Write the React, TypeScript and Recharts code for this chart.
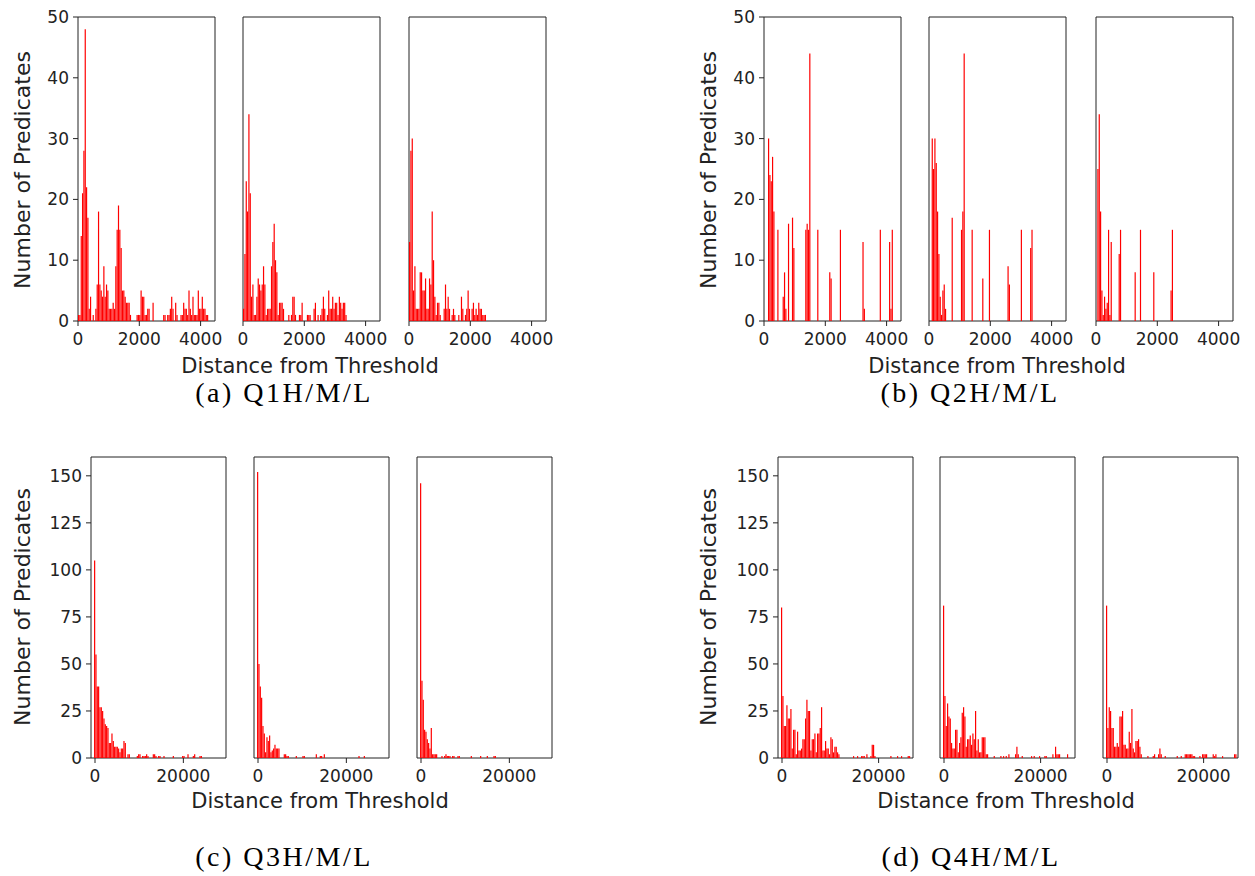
import { BarChart, Bar, XAxis, YAxis, ReferenceArea } from 'recharts'

// histogram counts per bin (H / M / L panels)
const q1High = [1,1,14,21,28,48,22,17,2,4, 0,1,0,2,6,18,6,5,4,9, 4,6,5,2,2,2,3,2,9,15, 19,15,12,5,5,4,3,3,3,1, 0,0,0,0,1,1,1,5,4,4, 1,1,2,2,0,0,3,0,0,0, 0,0,0,0,1,1,0,1,1,2, 4,2,0,3,1,0,0,1,1,3, 2,2,1,5,2,1,4,1,1,1, 5,2,2,4,2,2,1,1]
const q1Mid = [2,11,23,18,34,21,4,6,1,1, 4,7,6,5,6,9,6,1,2,2, 2,9,13,16,10,8,1,3,3,3, 2,0,0,0,1,0,1,4,4,1, 0,0,1,1,3,0,0,0,1,1, 1,0,0,2,3,0,1,0,1,2, 4,2,0,1,5,2,2,4,2,3, 3,1,4,3,2,3,3,1]
const q1Low = [13,28,30,5,9,2,2,2,8,8, 5,5,7,2,2,7,6,18,10,4, 1,3,3,1,0,0,2,6,2,4, 2,0,1,2,1,0,0,1,0,4, 2,0,1,2,5,2,0,2,3,1, 2,1,3,2,2,1,1,1]

const q2High = [0,0,0,30,24,23,27,18,0,0, 15,0,0,0,4,8,2,0,16,0, 0,17,12,0,0,0,0,0,0,0, 0,15,16,15,44,0,0,0,0,0, 15,0,0,0,0,0,0,0,0,8, 7,0,0,0,0,0,0,15,0,0, 0,0,0,0,0,0,0,0,0,0, 0,0,0,0,13,2,0,0,0,0, 0,0,0,0,0,0,0,15,0,0, 0,0,0,0,13,2,15]
const q2Mid = [0,0,30,25,30,26,18,11,4,1, 5,6,2,0,0,0,0,17,0,0, 0,0,0,0,15,18,44,0,0,0, 0,0,15,0,0,0,0,0,0,0, 7,0,0,0,0,15,0,0,0,0, 0,0,0,0,0,0,0,0,0,9, 6,0,0,0,0,0,0,0,0,15, 0,0,0,0,0,0,12,15]
const q2Low = [0,25,34,18,5,1,4,2,3,15, 1,13,0,0,0,0,0,11,15,0, 0,0,0,0,0,0,0,0,0,8, 0,0,0,15,0,0,0,0,0,0, 0,0,0,8,0,0,0,0,0,0, 0,0,0,0,0,0,5,15]

const q3High = [105,55,38,38,27,27,25,21,18,17, 16,8,8,13,9,6,6,6,5,3, 5,5,9,8,0,2,2,0,0,0, 0,0,1,2,2,0,1,1,1,2, 1,0,0,0,2,2,1,0,1,1, 0,0,1,0,0,0,0,0,0,1, 0,0,0,0,0,0,1,1,0,0, 2,0,0,0,1,2,0,0,0,1, 1]
const q3Mid = [152,50,38,32,17,13,3,11,9,12, 3,4,5,7,5,5,5,0,0,0, 2,2,1,1,0,0,0,0,0,1, 0,0,0,0,1,1,0,0,0,0, 0,0,0,0,2,0,0,1,1,0, 2,0,0,0,0,0,0,0,0,0, 0,0,0,0,0,0,0,0,0,0, 0,0,0,0,0,0,1,0,0,0, 1]
const q3Low = [146,41,31,15,14,10,8,5,16,2, 2,2,2,0,0,0,1,0,1,2, 1,1,1,0,1,1,0,0,1,1, 0,0,0,0,0,0,0,0,1,0, 0,0,0,0,0,1,0,0,0,0, 1,0,0,0,0,1,1]

const q4High = [80,33,17,17,28,21,21,26,5,15, 15,2,14,4,4,5,10,10,21,31, 25,25,4,10,10,13,3,13,13,16, 27,4,4,9,5,5,2,11,10,3, 6,6,3,2,0,0,0,0,0,0, 0,0,0,0,1,0,0,1,0,0, 1,1,1,0,2,0,0,1,7,7, 1,0,0,0,0,0,0,0,0,0, 0,0,1,0,0,0,0,1,0,0, 1,0,0,0,0,1,1]
const q4Mid = [81,33,17,29,22,21,8,5,5,15, 15,3,8,11,24,27,22,6,10,10, 12,7,13,10,25,4,10,3,3,11, 11,11,2,2,0,0,0,0,1,0, 0,0,0,1,0,1,0,1,0,2, 0,0,0,0,2,6,2,0,0,1, 0,0,0,0,0,0,1,0,1,0, 0,0,1,0,0,0,1,1,0,0, 0,0,2,0,6,2,2,2,0,0, 0,0,0,2]
const q4Low = [81,16,27,25,16,16,6,6,8,6, 22,22,25,7,7,5,5,14,8,26, 5,3,9,9,10,6,2,0,0,0, 0,1,0,0,0,1,2,0,0,2, 5,2,0,0,1,0,0,0,0,0, 0,0,0,1,0,0,1,0,0,2, 2,2,2,2,2,1,1,0,0,0, 1,0,2,2,2,2,0,0,0,0, 2,1,2,0,0,0,0,1,0,0, 0,0,0,0,0,0,2,2]

// bin edges (distance units)
const binQ12 = { start: 0, width: 43.4 }
const binQ3 = { start: -220, width: 302 }
const binQ4 = { start: -210, width: 276 }

const xTicksQ12 = [0, 2000, 4000]
const xTicksQ34 = [0, 20000]
const yTicksQ12 = [0, 10, 20, 30, 40, 50]
const yTicksQ34 = [0, 25, 50, 75, 100, 125, 150]

const captions = ['(a) Q1H/M/L', '(b) Q2H/M/L', '(c) Q3H/M/L', '(d) Q4H/M/L']
const xLabel = 'Distance from Threshold'
const yLabel = 'Number of Predicates'

const INK = '#222'
const PAD_L = 60
const PAD_T = 15
const PAD_R = 30
const AXIS_H = 34

type HistProps = {
  counts: number[]
  bin: { start: number; width: number }
  xDomain: [number, number]
  xTicks: number[]
  yMax: number
  yTicks: number[]
  showY: boolean
  left: number
  top: number
  w: number
  h: number
}

function Hist({ counts, bin, xDomain, xTicks, yMax, yTicks, showY, left, top, w, h }: HistProps) {
  const data = counts.map((n, i) => ({ x: bin.start + (i + 0.5) * bin.width, n }))
  // a touch wider than one bin so neighbouring bars close up like matplotlib's
  const barPx = (bin.width * w) / (xDomain[1] - xDomain[0]) + 0.35
  const tickStyle = { fill: INK, fontSize: 17 }

  return (
    <div style={{ position: 'absolute', left: left - PAD_L, top: top - PAD_T }}>
      <BarChart
        width={PAD_L + w + PAD_R}
        height={PAD_T + h + AXIS_H}
        data={data}
        margin={{ top: PAD_T, right: PAD_R, left: 0, bottom: 0 }}
        barCategoryGap={0}
      >
        <XAxis
          type="number"
          dataKey="x"
          domain={xDomain}
          ticks={xTicks}
          interval={0}
          allowDataOverflow
          height={AXIS_H}
          axisLine={false}
          tickSize={5}
          tickMargin={7}
          tickLine={{ stroke: INK }}
          tick={tickStyle}
        />
        <YAxis
          type="number"
          domain={[0, yMax]}
          ticks={yTicks}
          interval={0}
          allowDataOverflow
          width={PAD_L}
          axisLine={false}
          tickSize={5}
          tickMargin={4}
          tickLine={showY ? { stroke: INK } : false}
          tick={showY ? tickStyle : false}
        />
        <Bar dataKey="n" fill="#ff0000" barSize={barPx} isAnimationActive={false} />
        <ReferenceArea x1={xDomain[0]} x2={xDomain[1]} y1={0} y2={yMax} fill="none" stroke={INK} strokeWidth={1} />
      </BarChart>
    </div>
  )
}

function Centered({ text, cx, cy, size, serif, spacing }: { text: string; cx: number; cy: number; size: number; serif?: boolean; spacing?: number }) {
  return (
    <div
      style={{
        position: 'absolute',
        left: cx - 250,
        top: cy - size * 0.6,
        width: 500,
        lineHeight: `${size * 1.2}px`,
        textAlign: 'center',
        fontSize: size,
        letterSpacing: spacing ?? 0,
        fontFamily: serif ? '"Liberation Serif", serif' : '"DejaVu Sans", sans-serif',
        color: serif ? '#000' : INK,
        whiteSpace: 'nowrap',
      }}
    >
      {text}
    </div>
  )
}

function VLabel({ cx, cy }: { cx: number; cy: number }) {
  return (
    <div
      style={{
        position: 'absolute',
        left: cx,
        top: cy,
        transform: 'translate(-50%, -50%) rotate(-90deg)',
        fontSize: 22,
        color: INK,
        whiteSpace: 'nowrap',
        fontFamily: '"DejaVu Sans", sans-serif',
      }}
    >
      {yLabel}
    </div>
  )
}

export default function App() {
  const groups = [
    { counts: [q1High, q1Mid, q1Low], bin: binQ12, lefts: [78, 243, 409], top: 17, w: 137, h: 304, xDomain: [0, 4470] as [number, number], xTicks: xTicksQ12, yMax: 50, yTicks: yTicksQ12 },
    { counts: [q2High, q2Mid, q2Low], bin: binQ12, lefts: [764, 929, 1096], top: 17, w: 137, h: 304, xDomain: [0, 4470] as [number, number], xTicks: xTicksQ12, yMax: 50, yTicks: yTicksQ12 },
    { counts: [q3High, q3Mid, q3Low], bin: binQ3, lefts: [91, 254, 417], top: 457, w: 135, h: 301, xDomain: [-906, 29657] as [number, number], xTicks: xTicksQ34, yMax: 160, yTicks: yTicksQ34 },
    { counts: [q4High, q4Mid, q4Low], bin: binQ4, lefts: [778, 940, 1103], top: 457, w: 135, h: 301, xDomain: [-830, 27120] as [number, number], xTicks: xTicksQ34, yMax: 160, yTicks: yTicksQ34 },
  ]
  const xLabelPos = [[310, 367], [997, 367], [320, 802], [1006, 802]]
  const yLabelPos = [[22, 170], [708, 170], [22, 607], [708, 607]]
  const captionPos = [[284, 393], [970, 393], [284, 857], [971, 857]]

  return (
    <div style={{ position: 'absolute', left: 0, top: 0, width: 1255, height: 876, background: '#fff', fontFamily: '"DejaVu Sans", sans-serif' }}>
      {groups.map((g, gi) =>
        g.counts.map((c, pi) => (
          <Hist
            key={`${gi}-${pi}`}
            counts={c}
            bin={g.bin}
            xDomain={g.xDomain}
            xTicks={g.xTicks}
            yMax={g.yMax}
            yTicks={g.yTicks}
            showY={pi === 0}
            left={g.lefts[pi]}
            top={g.top}
            w={g.w}
            h={g.h}
          />
        ))
      )}
      {xLabelPos.map(([x, y], i) => (
        <Centered key={`xl${i}`} text={xLabel} cx={x} cy={y} size={21} />
      ))}
      {yLabelPos.map(([x, y], i) => (
        <VLabel key={`yl${i}`} cx={x} cy={y} />
      ))}
      {captionPos.map(([x, y], i) => (
        <Centered key={`cap${i}`} text={captions[i]} cx={x} cy={y} size={28} serif spacing={2.5} />
      ))}
    </div>
  )
}
